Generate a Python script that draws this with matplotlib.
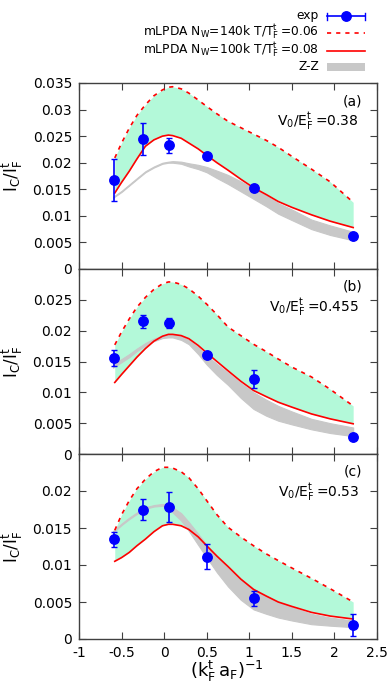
import matplotlib
matplotlib.use("Agg")
import matplotlib.pyplot as plt
from matplotlib.lines import Line2D
from matplotlib.patches import Rectangle

plt.rcParams['font.family'] = ['DejaVu Sans']
plt.rcParams['mathtext.fontset'] = 'dejavusans'

# ---------------- data ----------------
x_exp = [-0.585, -0.252, 0.054, 0.505, 1.055, 2.222]

exp_a = [0.01677, 0.02443, 0.0233, 0.0213, 0.0153, 0.0063]
err_a = [0.0040, 0.0030, 0.0014, 0.0003, 0.0002, 0.0002]
exp_b = [0.0155, 0.0215, 0.0213, 0.0160, 0.01215, 0.0028]
err_b = [0.0013, 0.0010, 0.0008, 0.0003, 0.0015, 0.0002]
exp_c = [0.0135, 0.0175, 0.0178, 0.0111, 0.0055, 0.0019]
err_c = [0.0010, 0.0014, 0.0020, 0.0017, 0.0010, 0.0015]

x_th = [-0.58, -0.5, -0.41, -0.32, -0.22, -0.12, -0.02, 0.05, 0.1, 0.2, 0.29, 0.4,
        0.5, 0.62, 0.75, 0.9, 1.05, 1.2, 1.34, 1.5, 1.73, 1.95, 2.22]
x_zz = [-0.60, -0.5, -0.41, -0.32, -0.22, -0.12, -0.02, 0.05, 0.1, 0.2, 0.29, 0.4,
        0.5, 0.62, 0.75, 0.9, 1.05, 1.2, 1.34, 1.5, 1.73, 1.95, 2.22]

dash_a = [0.0209, 0.0237, 0.0265, 0.0289, 0.0309, 0.0326, 0.0337, 0.0342, 0.0343, 0.0339, 0.0331, 0.0318,
          0.0306, 0.0292, 0.0278, 0.0266, 0.0254, 0.0242, 0.0229, 0.0212, 0.0188, 0.0164, 0.01255]
red_a = [0.0143, 0.0163, 0.0184, 0.0207, 0.0231, 0.0243, 0.0250, 0.0252, 0.0251, 0.0246, 0.0237, 0.0226,
         0.0214, 0.0200, 0.0186, 0.0169, 0.0153, 0.0140, 0.0127, 0.0116, 0.0102, 0.0090, 0.0078]
zzu_a = [0.0136, 0.0147, 0.0159, 0.0171, 0.0184, 0.0193, 0.0200, 0.0202, 0.0203, 0.0202, 0.0199, 0.0196,
         0.0192, 0.0185, 0.0177, 0.0165, 0.0151, 0.0138, 0.0124, 0.0112, 0.0093, 0.0082, 0.0070]
zzl_a = [0.0134, 0.0145, 0.0157, 0.0169, 0.0182, 0.0191, 0.0198, 0.0200, 0.0200, 0.0198, 0.0193, 0.0188,
         0.0182, 0.0171, 0.0160, 0.0146, 0.0132, 0.0118, 0.0104, 0.0092, 0.0075, 0.0064, 0.0054]

dash_b = [0.0177, 0.0198, 0.0219, 0.0238, 0.0254, 0.0267, 0.0276, 0.0279, 0.0279, 0.0275, 0.0268, 0.0256,
          0.0243, 0.0226, 0.0206, 0.0192, 0.0178, 0.0166, 0.0154, 0.0141, 0.0125, 0.0105, 0.0078]
red_b = [0.0116, 0.0129, 0.0143, 0.0157, 0.0171, 0.0183, 0.0191, 0.0194, 0.0194, 0.0192, 0.0187, 0.0176,
         0.0164, 0.0150, 0.0135, 0.0118, 0.0103, 0.0093, 0.0084, 0.0076, 0.0065, 0.0057, 0.0049]
zzu_b = [0.0146, 0.0154, 0.0162, 0.0171, 0.0180, 0.0187, 0.0192, 0.0194, 0.0194, 0.0191, 0.0185, 0.0173,
         0.0160, 0.0146, 0.0132, 0.0115, 0.0100, 0.0088, 0.0078, 0.0069, 0.0057, 0.0050, 0.0043]
zzl_b = [0.0140, 0.0149, 0.0157, 0.0167, 0.0176, 0.0183, 0.0188, 0.0189, 0.0189, 0.0185, 0.0178, 0.0162,
         0.0145, 0.0128, 0.0112, 0.0091, 0.0073, 0.0062, 0.0054, 0.0048, 0.0040, 0.0034, 0.0029]

dash_c = [0.0147, 0.0168, 0.0187, 0.0203, 0.0216, 0.0226, 0.0232, 0.0232, 0.0231, 0.0226, 0.0218, 0.0203,
          0.0187, 0.0168, 0.0151, 0.0138, 0.0126, 0.0115, 0.0106, 0.0096, 0.0082, 0.0068, 0.0050]
red_c = [0.0105, 0.0110, 0.0117, 0.0126, 0.0135, 0.0145, 0.0153, 0.0155, 0.0155, 0.0153, 0.0148, 0.0138,
         0.0126, 0.0112, 0.0098, 0.0081, 0.0067, 0.0058, 0.0050, 0.0044, 0.0036, 0.0031, 0.0027]
zzu_c = [0.0146, 0.0156, 0.0164, 0.0171, 0.0178, 0.0181, 0.01825, 0.0181, 0.0178, 0.0170, 0.0158, 0.0142,
         0.0127, 0.0111, 0.0096, 0.0081, 0.0068, 0.0058, 0.0050, 0.0043, 0.0034, 0.0029, 0.0025]
zzl_c = [0.0144, 0.0154, 0.0162, 0.0169, 0.0176, 0.0179, 0.0180, 0.0177, 0.0171, 0.0160, 0.0146, 0.0127,
         0.0110, 0.0090, 0.0071, 0.0053, 0.0040, 0.0034, 0.0029, 0.0025, 0.0020, 0.0018, 0.0016]

panel_labels = ['(a)', '(b)', '(c)']
v0_labels = ['0.38', '0.455', '0.53']
ytops = [0.035, 0.03, 0.025]
ytick_a = [0, 0.005, 0.01, 0.015, 0.02, 0.025, 0.03, 0.035]
ytick_b = [0, 0.005, 0.01, 0.015, 0.02, 0.025]
ytick_c = [0, 0.005, 0.01, 0.015, 0.02]
xticks = [-1, -0.5, 0, 0.5, 1, 1.5, 2, 2.5]
xticklabels = ['-1', '-0.5', '0', '0.5', '1', '1.5', '2', '2.5']

legend_labels = ['exp',
                 r'mLPDA N$_\mathregular{W}$=140k T/T$_\mathregular{F}^\mathregular{t}\,$=0.06',
                 r'mLPDA N$_\mathregular{W}$=100k T/T$_\mathregular{F}^\mathregular{t}\,$=0.08',
                 'Z-Z']

GREEN = '#b3f9d9'
GRAY = '#c8c8c8'
RED = '#ff0000'
BLUE = '#0000ff'
SPINE = '#404040'

# ---------------- figure ----------------
fig = plt.figure(figsize=(3.92, 6.87), dpi=100)
L, W = 79 / 392, 298 / 392
tops_px = [83, 269, 454]
bots_px = [269, 454, 639]

exps = [exp_a, exp_b, exp_c]
errs = [err_a, err_b, err_c]
dashes = [dash_a, dash_b, dash_c]
reds = [red_a, red_b, red_c]
zzus = [zzu_a, zzu_b, zzu_c]
zzls = [zzl_a, zzl_b, zzl_c]
yticks_all = [ytick_a, ytick_b, ytick_c]


def fmt(v):
    return '0' if v == 0 else ('%g' % v)


for i in range(3):
    bottom = (687 - bots_px[i]) / 687
    height = (bots_px[i] - tops_px[i]) / 687
    ax = fig.add_axes([L, bottom, W, height])
    ax.fill_between(x_th, reds[i], dashes[i], color=GREEN, lw=0, zorder=1)
    ax.fill_between(x_zz, zzls[i], zzus[i], color=GRAY, lw=0.8, edgecolor=GRAY, zorder=2)
    ax.plot(x_th, reds[i], color=RED, lw=1.2, zorder=3)
    ax.plot(x_th, dashes[i], color=RED, lw=1.2, ls=(0, (2.5, 3)), zorder=3)
    ax.errorbar(x_exp, exps[i], yerr=errs[i], fmt='o', color=BLUE, ms=6.8,
                elinewidth=1.2, capsize=2.5, capthick=1.0, zorder=4)
    ax.set_xlim(-1, 2.5)
    ax.set_ylim(0, ytops[i])
    ax.set_xticks(xticks)
    ax.set_yticks(yticks_all[i])
    ax.set_yticklabels([fmt(v) for v in yticks_all[i]])
    if i == 2:
        ax.set_xticklabels(xticklabels)
        ax.set_xlabel(r'$\mathregular{(k_F^t\,a_F)^{-1}}$', fontsize=13)
        ax.xaxis.set_label_coords(0.497, -0.11)
    else:
        ax.set_xticklabels([])
    ax.tick_params(direction='in', top=True, right=True, length=5, width=0.8,
                   color=SPINE, labelsize=10, pad=5)
    for s in ax.spines.values():
        s.set_color(SPINE)
        s.set_linewidth(1.0)
    ax.set_ylabel(r'$\mathregular{I_C/I_F^t}$', fontsize=12)
    ax.yaxis.set_label_coords(-0.18, 0.5)
    ax.text(0.95, 0.903, panel_labels[i], transform=ax.transAxes, ha='right',
            va='center', fontsize=10)
    ax.text(0.94, 0.796, r'V$_0$/E$_\mathregular{F}^\mathregular{t}\,$=' + v0_labels[i],
            transform=ax.transAxes, ha='right', va='center', fontsize=10)

# ---------------- manual legend (gnuplot style) ----------------
ty = [16, 32.5, 50.5, 67]
tx = 319 / 392
hx0, hx1 = 327 / 392, 365 / 392
for k, lab in enumerate(legend_labels):
    yf = 1 - ty[k] / 687
    fig.text(tx, yf, lab, ha='right', va='center', fontsize=8.8)
    if k == 0:
        fig.add_artist(Line2D([hx0, hx1], [yf, yf], color=BLUE, lw=1.2,
                              transform=fig.transFigure))
        for xx in (hx0, hx1):
            fig.add_artist(Line2D([xx, xx], [yf - 3.5 / 687, yf + 3.5 / 687],
                                  color=BLUE, lw=1.0, transform=fig.transFigure))
        fig.add_artist(Line2D([(hx0 + hx1) / 2], [yf], marker='o', ms=6.8,
                              color=BLUE, transform=fig.transFigure))
    elif k == 1:
        fig.add_artist(Line2D([hx0, hx1], [yf, yf], color=RED, lw=1.2,
                              ls=(0, (2.5, 3)), transform=fig.transFigure))
    elif k == 2:
        fig.add_artist(Line2D([hx0, hx1], [yf, yf], color=RED, lw=1.2,
                              transform=fig.transFigure))
    else:
        fig.add_artist(Rectangle((hx0, yf - 4 / 687), hx1 - hx0, 8 / 687,
                                 color=GRAY, lw=0, transform=fig.transFigure))

fig.savefig('out.png', dpi=100)
